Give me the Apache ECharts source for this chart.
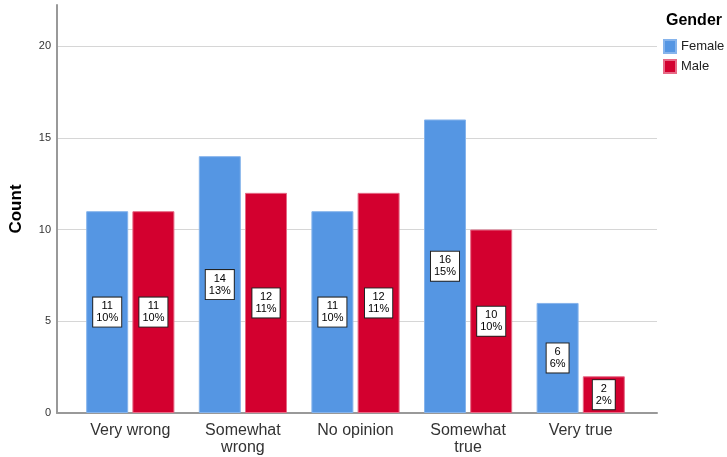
<!DOCTYPE html>
<html lang="en">
<head>
    <meta charset="UTF-8">
    <title>Count by Gender</title>
    <script type="text/javascript" src="https://cdnjs.cloudflare.com/ajax/libs/echarts/6.0.0/echarts.min.js"></script>
    <style>
        html, body { margin: 0; padding: 0; background: #fff; }
    </style>
</head>
<body>
    <div id="main" style="width: 727px;height:457px;"></div>
    <script type="text/javascript">
        const categories = ['Very wrong', 'Somewhat\nwrong', 'No opinion', 'Somewhat\ntrue', 'Very true'];
        const femaleCounts = [11, 14, 11, 16, 6];
        const maleCounts = [11, 12, 12, 10, 2];
        const femalePct = ['10%', '13%', '10%', '15%', '6%'];
        const malePct = ['10%', '11%', '11%', '10%', '2%'];
        const yMax = 22.24;

        const font = 'Liberation Sans, Arial, sans-serif';

        function makeLabel(pcts) {
            return {
                show: true,
                position: 'inside',
                formatter: function (p) {
                    return p.value + '\n' + pcts[p.dataIndex];
                },
                fontFamily: font,
                fontSize: 11,
                lineHeight: 12,
                color: '#000',
                backgroundColor: '#fff',
                borderColor: '#222',
                borderWidth: 1,
                padding: [3, 3, 2, 3],
                align: 'center'
            };
        }

        const myChart = echarts.init(document.getElementById('main'));
        const option = {
            animation: false,
            title: {
                text: 'Gender',
                left: 661,
                top: 8,
                textStyle: { fontFamily: font, fontSize: 16, fontWeight: 'bold', color: '#000' }
            },
            legend: {
                orient: 'vertical',
                left: 658,
                top: 34,
                itemWidth: 12,
                itemHeight: 13,
                itemGap: 5,
                icon: 'rect',
                textStyle: { fontFamily: font, fontSize: 13, color: '#222' },
                data: ['Female', 'Male']
            },
            grid: [
                { left: 54, right: 70, top: 5, bottom: 44 },
                { left: 74, right: 90, top: 5, bottom: 44 }
            ],
            xAxis: [
                {
                    gridIndex: 0,
                    type: 'value',
                    min: 0,
                    max: 1,
                    axisLine: { show: true, onZero: false, lineStyle: { color: '#999', width: 2 } },
                    axisTick: { show: false },
                    axisLabel: { show: false },
                    splitLine: { show: false }
                },
                {
                    gridIndex: 1,
                    type: 'category',
                    data: categories,
                    axisLine: { show: false },
                    axisTick: { show: false },
                    axisLabel: {
                        fontFamily: font,
                        fontSize: 16,
                        lineHeight: 17,
                        color: '#333',
                        margin: 9,
                        interval: 0
                    }
                }
            ],
            yAxis: [
                {
                    gridIndex: 0,
                    type: 'value',
                    min: 0,
                    max: yMax,
                    interval: 5,
                    name: 'Count',
                    nameLocation: 'middle',
                    nameGap: 32,
                    nameTextStyle: { fontFamily: font, fontSize: 17, fontWeight: 'bold', color: '#000' },
                    axisLine: { show: true, lineStyle: { color: '#999', width: 2 } },
                    axisTick: { show: false },
                    axisLabel: {
                        fontFamily: font,
                        fontSize: 11,
                        color: '#333',
                        margin: 6,
                        showMaxLabel: false,
                        formatter: function (v) { return v % 5 === 0 ? String(v) : ''; }
                    },
                    splitLine: { show: true, showMaxLine: false, showMinLine: false, lineStyle: { color: '#d6d6d6', width: 1 } }
                },
                {
                    gridIndex: 1,
                    type: 'value',
                    min: 0,
                    max: yMax,
                    show: false
                }
            ],
            series: [
                {
                    name: 'Female',
                    type: 'bar',
                    xAxisIndex: 1,
                    yAxisIndex: 1,
                    data: femaleCounts,
                    barWidth: 42,
                    barGap: '10%',
                    itemStyle: { color: '#5596e3', borderColor: '#86b4ec', borderWidth: 1 },
                    label: makeLabel(femalePct)
                },
                {
                    name: 'Male',
                    type: 'bar',
                    xAxisIndex: 1,
                    yAxisIndex: 1,
                    data: maleCounts,
                    barWidth: 42,
                    barGap: '10%',
                    itemStyle: { color: '#d3002f', borderColor: '#e66a86', borderWidth: 1 },
                    label: makeLabel(malePct)
                }
            ]
        };
        myChart.setOption(option);
    </script>
</body>
</html>
